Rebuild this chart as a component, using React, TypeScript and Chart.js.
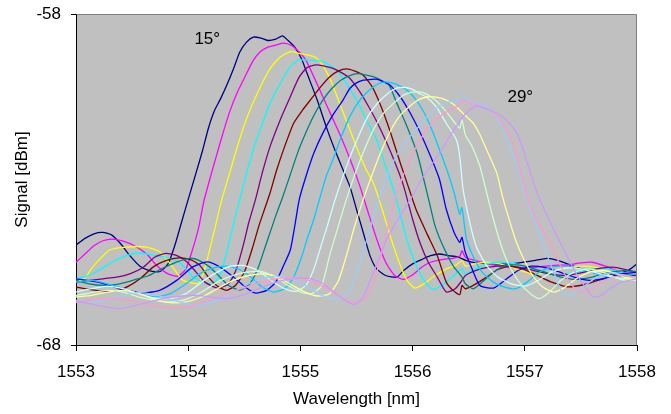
import React, { useEffect, useRef } from "react";
import { Chart, registerables } from "chart.js";

Chart.register(...registerables);

type Pt = [number, number];

// Wavelength [nm], Signal [dBm] for each incidence angle
const s15: Pt[] = [
  [1553.0, -64.98], [1553.08, -64.78], [1553.16, -64.64], [1553.24, -64.6], [1553.32, -64.68], [1553.4, -64.95],
  [1553.48, -65.3], [1553.57, -65.62], [1553.66, -65.76], [1553.75, -65.78], [1553.82, -65.55], [1553.88, -65.0],
  [1553.94, -64.3], [1554.0, -63.6], [1554.07, -62.8], [1554.13, -62.1], [1554.18, -61.45], [1554.23, -60.95],
  [1554.29, -60.55], [1554.35, -60.1], [1554.41, -59.6], [1554.46, -59.15], [1554.52, -58.85], [1554.58, -58.7],
  [1554.64, -58.72], [1554.71, -58.8], [1554.78, -58.76], [1554.84, -58.66], [1554.89, -58.8], [1554.95, -59.0],
  [1555.01, -59.35], [1555.06, -59.8], [1555.15, -60.6], [1555.24, -61.5], [1555.33, -62.3], [1555.44, -63.2],
  [1555.5, -63.9], [1555.56, -64.6], [1555.62, -65.3], [1555.68, -65.7], [1555.76, -65.9], [1555.86, -65.95],
  [1555.92, -65.75], [1556.0, -65.55], [1556.08, -65.42], [1556.16, -65.3], [1556.24, -65.25], [1556.32, -65.3],
  [1556.4, -65.34], [1556.48, -65.45], [1556.57, -65.52], [1556.7, -65.55], [1556.85, -65.55], [1556.98, -65.5],
  [1557.08, -65.45], [1557.2, -65.38], [1557.3, -65.45], [1557.42, -65.6], [1557.55, -65.75], [1557.67, -65.85],
  [1557.8, -65.85], [1557.92, -65.75], [1558.0, -65.55],
];
const s16: Pt[] = [
  [1553.0, -65.5], [1553.08, -65.25], [1553.16, -65.0], [1553.24, -64.85], [1553.32, -64.8], [1553.42, -64.86],
  [1553.52, -65.0], [1553.63, -65.25], [1553.72, -65.6], [1553.82, -65.85], [1553.91, -65.92], [1553.98, -65.7],
  [1554.04, -65.1], [1554.09, -64.5], [1554.14, -63.65], [1554.2, -62.9], [1554.25, -62.3], [1554.31, -61.6],
  [1554.37, -60.95], [1554.44, -60.35], [1554.52, -59.8], [1554.58, -59.4], [1554.64, -59.15], [1554.71, -59.0],
  [1554.78, -58.94], [1554.85, -58.88], [1554.92, -58.95], [1554.99, -59.15], [1555.05, -59.4], [1555.12, -59.9],
  [1555.2, -60.5], [1555.28, -61.1], [1555.36, -61.7], [1555.45, -62.45], [1555.53, -63.2], [1555.6, -63.95],
  [1555.68, -64.8], [1555.76, -65.5], [1555.84, -65.9], [1555.92, -66.02], [1556.0, -65.88], [1556.08, -65.65],
  [1556.16, -65.5], [1556.26, -65.42], [1556.36, -65.38], [1556.42, -65.32], [1556.44, -65.15], [1556.47, -65.35],
  [1556.56, -65.45], [1556.68, -65.55], [1556.82, -65.65], [1556.96, -65.68], [1557.1, -65.65], [1557.24, -65.6],
  [1557.38, -65.58], [1557.5, -65.52], [1557.6, -65.5], [1557.72, -65.62], [1557.85, -65.8], [1558.0, -65.9],
];
const s17: Pt[] = [
  [1553.0, -66.1], [1553.08, -65.98], [1553.15, -65.64], [1553.3, -65.13], [1553.45, -65.04], [1553.63, -65.04],
  [1553.75, -65.19], [1553.86, -65.64], [1553.95, -66.04], [1554.04, -66.13], [1554.09, -66.15], [1554.14, -65.8],
  [1554.2, -65.0], [1554.25, -64.3], [1554.3, -63.6], [1554.37, -62.8], [1554.43, -62.1], [1554.5, -61.35],
  [1554.57, -60.75], [1554.65, -60.15], [1554.73, -59.65], [1554.82, -59.3], [1554.91, -59.14], [1555.0, -59.2],
  [1555.08, -59.25], [1555.14, -59.32], [1555.2, -59.55], [1555.27, -60.0], [1555.35, -60.7], [1555.43, -61.4],
  [1555.51, -62.1], [1555.58, -62.65], [1555.65, -63.1], [1555.72, -63.8], [1555.8, -64.7], [1555.88, -65.5],
  [1555.95, -66.05], [1556.02, -66.28], [1556.1, -66.15], [1556.2, -65.9], [1556.3, -65.7], [1556.38, -65.6],
  [1556.44, -65.45], [1556.47, -65.62], [1556.55, -65.55], [1556.65, -65.5], [1556.78, -65.55], [1556.92, -65.7],
  [1557.06, -65.85], [1557.2, -65.82], [1557.34, -65.7], [1557.48, -65.62], [1557.62, -65.65], [1557.76, -65.78],
  [1557.9, -65.95], [1558.0, -66.0],
];
const s18: Pt[] = [
  [1553.0, -66.0], [1553.1, -65.92], [1553.2, -65.75], [1553.32, -65.5], [1553.45, -65.3], [1553.56, -65.22],
  [1553.68, -65.28], [1553.8, -65.35], [1553.93, -65.52], [1554.04, -65.94], [1554.13, -66.1], [1554.22, -66.15],
  [1554.29, -65.85], [1554.35, -65.1], [1554.4, -64.4], [1554.46, -63.6], [1554.52, -62.8], [1554.58, -62.1],
  [1554.64, -61.5], [1554.73, -60.7], [1554.82, -60.1], [1554.91, -59.6], [1554.98, -59.39], [1555.08, -59.4],
  [1555.2, -59.44], [1555.32, -59.69], [1555.41, -60.09], [1555.5, -60.6], [1555.59, -61.2], [1555.68, -61.8],
  [1555.75, -62.5], [1555.81, -63.1], [1555.87, -63.8], [1555.94, -64.7], [1556.02, -65.5], [1556.1, -66.05],
  [1556.18, -66.32], [1556.26, -66.2], [1556.35, -65.95], [1556.44, -65.7], [1556.47, -65.85], [1556.56, -65.7],
  [1556.66, -65.55], [1556.78, -65.5], [1556.92, -65.55], [1557.06, -65.7], [1557.2, -65.85], [1557.34, -65.88],
  [1557.48, -65.78], [1557.62, -65.7], [1557.76, -65.72], [1557.9, -65.85], [1558.0, -65.95],
];
const s19: Pt[] = [
  [1553.0, -66.1], [1553.12, -66.05], [1553.24, -66.0], [1553.36, -65.95], [1553.48, -65.85], [1553.6, -65.65],
  [1553.7, -65.35], [1553.8, -65.23], [1553.9, -65.3], [1553.99, -65.49], [1554.07, -65.8], [1554.15, -66.1],
  [1554.26, -66.28], [1554.36, -66.15], [1554.43, -65.7], [1554.49, -65.0], [1554.54, -64.3], [1554.6, -63.6],
  [1554.66, -62.8], [1554.73, -62.0], [1554.82, -61.2], [1554.91, -60.5], [1554.99, -59.9], [1555.06, -59.62],
  [1555.14, -59.54], [1555.22, -59.58], [1555.29, -59.64], [1555.37, -59.78], [1555.44, -59.94], [1555.52, -60.3],
  [1555.6, -60.75], [1555.68, -61.25], [1555.77, -61.9], [1555.85, -62.55], [1555.92, -63.2], [1556.0, -64.2],
  [1556.07, -64.95], [1556.14, -65.5], [1556.22, -65.95], [1556.3, -66.4], [1556.38, -66.3], [1556.44, -66.05],
  [1556.47, -65.9], [1556.56, -65.75], [1556.68, -65.65], [1556.8, -65.6], [1556.94, -65.65], [1557.08, -65.75],
  [1557.22, -65.85], [1557.36, -65.9], [1557.5, -65.82], [1557.64, -65.7], [1557.78, -65.65], [1557.9, -65.72],
  [1558.0, -65.8],
];
const s20: Pt[] = [
  [1553.0, -66.25], [1553.12, -66.32], [1553.25, -66.38], [1553.38, -66.35], [1553.48, -66.2], [1553.57, -66.0],
  [1553.69, -65.64], [1553.8, -65.45], [1553.92, -65.37], [1554.02, -65.42], [1554.1, -65.58], [1554.18, -65.95],
  [1554.26, -66.22], [1554.34, -66.35], [1554.42, -66.2], [1554.5, -65.8], [1554.57, -65.1], [1554.63, -64.4],
  [1554.68, -63.9], [1554.73, -63.4], [1554.79, -62.7], [1554.86, -62.0], [1554.94, -61.3], [1555.02, -60.9],
  [1555.1, -60.55], [1555.18, -60.2], [1555.26, -59.9], [1555.34, -59.72], [1555.41, -59.66], [1555.48, -59.72],
  [1555.56, -59.85], [1555.64, -60.2], [1555.72, -60.8], [1555.8, -61.55], [1555.89, -62.5], [1555.96, -63.2],
  [1556.03, -63.9], [1556.13, -64.65], [1556.22, -65.3], [1556.3, -66.1], [1556.36, -66.35], [1556.42, -66.48],
  [1556.44, -66.2], [1556.47, -66.3], [1556.54, -66.2], [1556.66, -65.95], [1556.76, -65.72], [1556.86, -65.62],
  [1556.98, -65.7], [1557.1, -65.88], [1557.24, -66.1], [1557.38, -66.24], [1557.52, -66.18], [1557.66, -66.04],
  [1557.8, -65.92], [1557.92, -65.88], [1558.0, -65.92],
];
const s21: Pt[] = [
  [1553.0, -66.05], [1553.12, -66.15], [1553.24, -66.2], [1553.35, -66.18], [1553.45, -66.1], [1553.55, -66.0],
  [1553.65, -65.9], [1553.75, -65.72], [1553.9, -65.49], [1554.02, -65.38], [1554.1, -65.45], [1554.19, -65.64],
  [1554.27, -65.9], [1554.36, -66.2], [1554.46, -66.34], [1554.55, -66.15], [1554.62, -65.7], [1554.68, -65.1],
  [1554.74, -64.5], [1554.79, -64.0], [1554.84, -63.55], [1554.91, -62.85], [1554.98, -62.15], [1555.06, -61.5],
  [1555.13, -61.0], [1555.2, -60.6], [1555.28, -60.25], [1555.36, -60.0], [1555.44, -59.86], [1555.51, -59.8],
  [1555.58, -59.84], [1555.65, -59.89], [1555.72, -60.0], [1555.79, -60.15], [1555.86, -60.7], [1555.95, -61.4],
  [1556.04, -62.2], [1556.1, -63.0], [1556.15, -63.7], [1556.2, -64.4], [1556.27, -65.0], [1556.36, -65.6],
  [1556.44, -65.95], [1556.47, -66.15], [1556.54, -66.3], [1556.62, -66.1], [1556.72, -65.8], [1556.82, -65.62],
  [1556.93, -65.58], [1557.05, -65.66], [1557.18, -65.8], [1557.32, -65.95], [1557.46, -66.02], [1557.6, -65.95],
  [1557.74, -65.82], [1557.88, -65.75], [1558.0, -65.8],
];
const s22: Pt[] = [
  [1553.0, -66.0], [1553.1, -66.05], [1553.22, -66.12], [1553.34, -66.25], [1553.45, -66.34], [1553.6, -66.43],
  [1553.75, -66.34], [1553.9, -66.04], [1554.04, -65.64], [1554.17, -65.49], [1554.28, -65.64], [1554.4, -65.94],
  [1554.52, -66.28], [1554.6, -66.43], [1554.7, -66.35], [1554.78, -66.1], [1554.85, -65.6], [1554.91, -65.13],
  [1554.95, -64.4], [1554.99, -63.6], [1555.05, -62.9], [1555.12, -62.2], [1555.2, -61.6], [1555.29, -61.05],
  [1555.38, -60.6], [1555.44, -60.25], [1555.5, -60.08], [1555.56, -60.0], [1555.62, -59.98], [1555.68, -59.97],
  [1555.74, -60.05], [1555.8, -60.15], [1555.89, -60.5], [1555.98, -61.0], [1556.07, -61.6], [1556.16, -62.3],
  [1556.24, -63.0], [1556.3, -63.9], [1556.37, -64.6], [1556.42, -64.9], [1556.44, -64.75], [1556.47, -65.2],
  [1556.53, -65.7], [1556.6, -66.2], [1556.72, -66.28], [1556.82, -66.05], [1556.94, -65.75], [1557.06, -65.62],
  [1557.18, -65.66], [1557.3, -65.78], [1557.44, -65.95], [1557.58, -66.05], [1557.72, -65.98], [1557.86, -65.85],
  [1558.0, -65.8],
];
const s23: Pt[] = [
  [1553.0, -66.1], [1553.14, -66.05], [1553.28, -66.15], [1553.42, -66.3], [1553.56, -66.45], [1553.7, -66.55],
  [1553.84, -66.45], [1553.98, -66.15], [1554.1, -65.85], [1554.22, -65.68], [1554.35, -65.62], [1554.46, -65.72],
  [1554.56, -65.95], [1554.66, -66.25], [1554.76, -66.4], [1554.86, -66.3], [1554.94, -65.95], [1555.01, -65.35],
  [1555.06, -64.8], [1555.12, -64.2], [1555.17, -63.6], [1555.23, -62.9], [1555.29, -62.4], [1555.36, -61.75],
  [1555.44, -61.1], [1555.53, -60.6], [1555.62, -60.28], [1555.7, -60.1], [1555.77, -60.05], [1555.85, -60.12],
  [1555.95, -60.3], [1556.02, -60.55], [1556.09, -60.9], [1556.16, -61.4], [1556.24, -62.1], [1556.31, -62.75],
  [1556.37, -63.4], [1556.42, -64.05], [1556.44, -63.85], [1556.48, -64.8], [1556.55, -65.4], [1556.62, -65.8],
  [1556.72, -66.1], [1556.82, -66.25], [1556.92, -66.3], [1557.02, -66.1], [1557.12, -65.82], [1557.24, -65.65],
  [1557.36, -65.62], [1557.5, -65.7], [1557.64, -65.85], [1557.78, -65.95], [1557.9, -65.9], [1558.0, -65.85],
];
const s24: Pt[] = [
  [1553.0, -66.4], [1553.14, -66.3], [1553.28, -66.22], [1553.42, -66.3], [1553.56, -66.45], [1553.7, -66.58],
  [1553.84, -66.6], [1553.98, -66.45], [1554.12, -66.1], [1554.26, -65.8], [1554.38, -65.62], [1554.5, -65.6],
  [1554.62, -65.75], [1554.74, -66.05], [1554.86, -66.3], [1554.96, -66.38], [1555.05, -66.2], [1555.12, -65.7],
  [1555.18, -65.05], [1555.24, -64.4], [1555.31, -63.6], [1555.38, -62.9], [1555.45, -62.25], [1555.53, -61.6],
  [1555.61, -61.05], [1555.7, -60.65], [1555.78, -60.4], [1555.86, -60.24], [1555.94, -60.22], [1556.0, -60.28],
  [1556.06, -60.4], [1556.12, -60.5], [1556.21, -60.8], [1556.3, -61.3], [1556.39, -61.8], [1556.42, -62.3],
  [1556.45, -63.3], [1556.51, -64.3], [1556.57, -65.05], [1556.66, -65.6], [1556.76, -65.95], [1556.88, -66.15],
  [1557.0, -66.22], [1557.12, -66.05], [1557.24, -65.8], [1557.36, -65.68], [1557.5, -65.7], [1557.64, -65.82],
  [1557.78, -65.95], [1557.9, -66.0], [1558.0, -65.95],
];
const s25: Pt[] = [
  [1553.0, -66.5], [1553.14, -66.42], [1553.28, -66.35], [1553.42, -66.4], [1553.56, -66.55], [1553.7, -66.65],
  [1553.84, -66.7], [1553.98, -66.62], [1554.12, -66.4], [1554.26, -66.1], [1554.4, -65.9], [1554.52, -65.8],
  [1554.64, -65.78], [1554.76, -65.92], [1554.88, -66.18], [1555.0, -66.4], [1555.1, -66.45], [1555.19, -66.2],
  [1555.26, -65.3], [1555.33, -64.5], [1555.41, -63.6], [1555.49, -62.8], [1555.57, -62.1], [1555.65, -61.5],
  [1555.74, -61.0], [1555.83, -60.7], [1555.92, -60.45], [1556.0, -60.36], [1556.08, -60.36], [1556.14, -60.45],
  [1556.22, -60.65], [1556.3, -60.95], [1556.38, -61.3], [1556.42, -61.45], [1556.44, -61.2], [1556.47, -61.65],
  [1556.53, -62.0], [1556.6, -62.6], [1556.66, -63.4], [1556.72, -64.2], [1556.79, -65.0], [1556.86, -65.6],
  [1556.95, -66.1], [1557.05, -66.45], [1557.13, -66.6], [1557.22, -66.4], [1557.32, -66.05], [1557.44, -65.8],
  [1557.56, -65.7], [1557.68, -65.78], [1557.8, -65.95], [1557.9, -66.05], [1558.0, -66.0],
];
const s26: Pt[] = [
  [1553.0, -66.55], [1553.14, -66.5], [1553.28, -66.4], [1553.42, -66.35], [1553.56, -66.45], [1553.7, -66.62],
  [1553.84, -66.72], [1553.98, -66.7], [1554.12, -66.55], [1554.26, -66.3], [1554.4, -66.05], [1554.54, -65.9],
  [1554.68, -65.85], [1554.8, -65.95], [1554.92, -66.18], [1555.04, -66.4], [1555.16, -66.52], [1555.26, -66.45],
  [1555.34, -66.05], [1555.41, -65.3], [1555.48, -64.45], [1555.56, -63.6], [1555.64, -62.85], [1555.72, -62.15],
  [1555.8, -61.55], [1555.88, -61.1], [1555.97, -60.8], [1556.06, -60.58], [1556.14, -60.5], [1556.22, -60.52],
  [1556.3, -60.6], [1556.36, -60.72], [1556.42, -60.9], [1556.48, -61.1], [1556.54, -61.3], [1556.6, -61.65],
  [1556.66, -62.1], [1556.75, -62.8], [1556.8, -63.5], [1556.86, -64.2], [1556.92, -64.85], [1556.99, -65.4],
  [1557.07, -65.9], [1557.16, -66.25], [1557.26, -66.4], [1557.36, -66.25], [1557.46, -66.0], [1557.58, -65.8],
  [1557.7, -65.75], [1557.82, -65.85], [1557.92, -66.0], [1558.0, -66.05],
];
const s27: Pt[] = [
  [1553.0, -66.65], [1553.14, -66.7], [1553.28, -66.62], [1553.42, -66.5], [1553.56, -66.42], [1553.7, -66.48],
  [1553.84, -66.62], [1553.98, -66.75], [1554.12, -66.78], [1554.26, -66.65], [1554.4, -66.4], [1554.54, -66.15],
  [1554.68, -65.98], [1554.8, -65.92], [1554.92, -66.0], [1555.04, -66.2], [1555.16, -66.45], [1555.28, -66.6],
  [1555.38, -66.55], [1555.46, -66.2], [1555.53, -65.5], [1555.61, -64.6], [1555.7, -63.6], [1555.78, -62.85],
  [1555.86, -62.25], [1555.93, -61.9], [1556.0, -61.6], [1556.07, -61.35], [1556.13, -61.1], [1556.24, -60.78],
  [1556.34, -60.64], [1556.42, -60.6], [1556.44, -60.45], [1556.5, -60.62], [1556.58, -60.7], [1556.69, -60.85],
  [1556.77, -61.25], [1556.84, -61.8], [1556.9, -62.3], [1556.96, -62.9], [1557.02, -63.6], [1557.08, -64.2],
  [1557.14, -64.7], [1557.2, -65.3], [1557.27, -65.9], [1557.34, -66.45], [1557.42, -66.5], [1557.52, -66.25],
  [1557.64, -65.95], [1557.76, -65.82], [1557.88, -65.88], [1558.0, -66.0],
];
const s28: Pt[] = [
  [1553.0, -66.72], [1553.14, -66.65], [1553.28, -66.6], [1553.42, -66.62], [1553.56, -66.7], [1553.7, -66.82],
  [1553.84, -66.88], [1553.98, -66.85], [1554.12, -66.72], [1554.26, -66.55], [1554.4, -66.38], [1554.54, -66.22],
  [1554.68, -66.08], [1554.82, -65.98], [1554.96, -65.96], [1555.1, -66.08], [1555.24, -66.3], [1555.36, -66.55],
  [1555.48, -66.72], [1555.58, -66.6], [1555.66, -66.05], [1555.72, -65.3], [1555.78, -64.45], [1555.84, -63.6],
  [1555.95, -62.6], [1556.05, -61.9], [1556.15, -61.4], [1556.26, -61.05], [1556.36, -60.85], [1556.42, -60.75],
  [1556.44, -60.58], [1556.51, -60.69], [1556.6, -60.78], [1556.69, -60.9], [1556.78, -61.2], [1556.87, -61.7],
  [1556.93, -62.3], [1556.98, -63.0], [1557.04, -63.7], [1557.1, -64.2], [1557.16, -64.55], [1557.22, -64.85],
  [1557.29, -65.4], [1557.37, -65.95], [1557.45, -66.3], [1557.52, -66.4], [1557.62, -66.25], [1557.74, -66.0],
  [1557.86, -65.9], [1558.0, -65.95],
];
const s29: Pt[] = [
  [1553.0, -66.67], [1553.12, -66.75], [1553.24, -66.84], [1553.38, -66.9], [1553.52, -66.82], [1553.66, -66.7],
  [1553.8, -66.58], [1553.94, -66.52], [1554.08, -66.5], [1554.22, -66.56], [1554.36, -66.6], [1554.5, -66.48],
  [1554.64, -66.28], [1554.78, -66.1], [1554.92, -66.0], [1555.06, -65.98], [1555.18, -66.1], [1555.3, -66.4],
  [1555.4, -66.65], [1555.48, -66.78], [1555.56, -66.55], [1555.64, -65.9], [1555.7, -65.4], [1555.77, -64.8],
  [1555.87, -64.2], [1555.98, -63.6], [1556.08, -63.0], [1556.18, -62.5], [1556.26, -62.1], [1556.33, -61.7],
  [1556.4, -61.35], [1556.45, -61.1], [1556.51, -60.9], [1556.57, -60.78], [1556.65, -60.85], [1556.72, -60.95],
  [1556.78, -61.05], [1556.86, -61.3], [1556.93, -61.6], [1556.99, -62.15], [1557.05, -62.8], [1557.12, -63.5],
  [1557.2, -64.1], [1557.27, -64.6], [1557.33, -65.0], [1557.39, -65.4], [1557.46, -65.85], [1557.54, -66.25],
  [1557.61, -66.55], [1557.68, -66.5], [1557.76, -66.3], [1557.86, -66.1], [1558.0, -66.0],
];

const seriesData: Pt[][] = [s15, s16, s17, s18, s19, s20, s21, s22, s23, s24, s25, s26, s27, s28, s29];
const seriesNames = ["15°", "16°", "17°", "18°", "19°", "20°", "21°", "22°", "23°", "24°", "25°", "26°", "27°", "28°", "29°"];
const seriesColors = [
  "#000080", "#FF00FF", "#FFFF00", "#00FFFF", "#800080", "#800000", "#008080", "#0000FF",
  "#00CCFF", "#CCFFFF", "#CCFFCC", "#FFFF99", "#99CCFF", "#FF99CC", "#CC99FF",
];

const xMin = 1553;
const xMax = 1558;
const xStep = 1;
const yMin = -68;
const yMax = -58;
const yStep = 10;

const labelTexts = ["15°", "29°"];
const labelX = [1554.17, 1556.96];
const labelY = [-58.77, -60.52];

const FONT = "'Liberation Sans', Arial, Helvetica, sans-serif";

export default function App() {
  const ref = useRef<HTMLCanvasElement | null>(null);

  useEffect(() => {
    if (!ref.current) return;

    const plotPlugin = {
      id: "plotDecor",
      beforeDraw(chart: any) {
        const { ctx, chartArea } = chart;
        ctx.save();
        ctx.fillStyle = "#C0C0C0";
        ctx.fillRect(chartArea.left, chartArea.top, chartArea.right - chartArea.left, chartArea.bottom - chartArea.top);
        ctx.restore();
      },
      afterDraw(chart: any) {
        const { ctx, chartArea, scales } = chart;
        ctx.save();
        ctx.strokeStyle = "#808080";
        ctx.lineWidth = 1;
        ctx.beginPath();
        ctx.moveTo(Math.round(chartArea.left) + 0.5, Math.round(chartArea.top) + 0.5);
        ctx.lineTo(Math.round(chartArea.right) - 0.5, Math.round(chartArea.top) + 0.5);
        ctx.lineTo(Math.round(chartArea.right) - 0.5, Math.round(chartArea.bottom));
        ctx.stroke();
        ctx.fillStyle = "#000000";
        ctx.font = `17px ${FONT}`;
        ctx.textAlign = "center";
        ctx.textBaseline = "middle";
        for (let i = 0; i < labelTexts.length; i++) {
          ctx.fillText(labelTexts[i], scales.x.getPixelForValue(labelX[i]), scales.y.getPixelForValue(labelY[i]));
        }
        ctx.restore();
      },
    };

    const chart = new Chart(ref.current, {
      type: "line",
      data: {
        datasets: seriesData.map((s, i) => ({
          label: seriesNames[i],
          data: s.map(([x, y]) => ({ x, y })),
          borderColor: seriesColors[i],
          backgroundColor: seriesColors[i],
          borderWidth: 1.3,
          pointRadius: 0,
          tension: 0.2,
          fill: false,
          order: -i,
        })),
      },
      options: {
        responsive: false,
        animation: false,
        events: [],
        layout: { padding: { left: 0, right: 34, top: 14, bottom: 0 } },
        plugins: {
          legend: { display: false },
          tooltip: { enabled: false },
          title: { display: false },
        },
        scales: {
          x: {
            type: "linear",
            min: xMin,
            max: xMax,
            ticks: {
              stepSize: xStep,
              color: "#000000",
              font: { family: FONT, size: 17 },
              padding: 11,
              maxRotation: 0,
              callback: (v: any) => String(v),
            },
            grid: { drawOnChartArea: false, drawTicks: true, tickLength: 6, tickColor: "#000000" },
            border: { display: true, color: "#000000", width: 1 },
            title: {
              display: true,
              text: "Wavelength [nm]",
              color: "#000000",
              font: { family: FONT, size: 17 },
              padding: { top: 0, bottom: 4 },
            },
            afterFit: (scale: any) => {
              scale.height = 69;
              scale.paddingLeft = 0;
              scale.paddingRight = 0;
            },
          },
          y: {
            type: "linear",
            min: yMin,
            max: yMax,
            ticks: {
              stepSize: yStep,
              color: "#000000",
              font: { family: FONT, size: 17 },
              padding: 10,
              callback: (v: any) => String(v),
            },
            grid: { drawOnChartArea: false, drawTicks: true, tickLength: 5, tickColor: "#000000" },
            border: { display: true, color: "#000000", width: 1 },
            title: {
              display: true,
              text: "Signal [dBm]",
              color: "#000000",
              font: { family: FONT, size: 17 },
              padding: { top: 12, bottom: 0 },
            },
            afterFit: (scale: any) => {
              scale.width = 76;
              scale.paddingTop = 0;
              scale.paddingBottom = 0;
            },
          },
        },
      },
      plugins: [plotPlugin],
    });

    return () => chart.destroy();
  }, []);

  return (
    <div style={{ position: "fixed", left: 0, top: 0, width: 671, height: 414, background: "#ffffff" }}>
      <canvas ref={ref} width={671} height={414} style={{ display: "block", width: 671, height: 414 }} />
    </div>
  );
}
